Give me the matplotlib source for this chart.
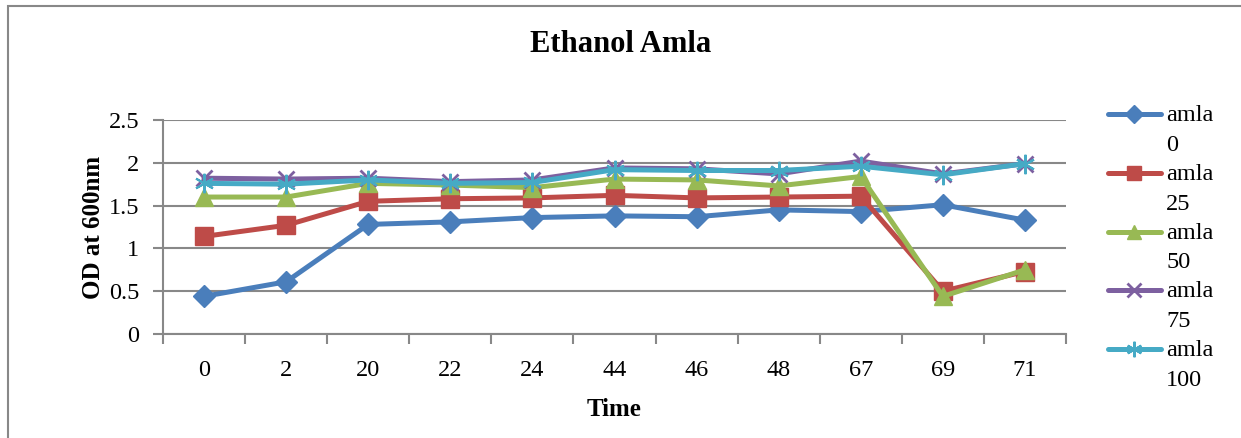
"""
Ethanol Amla growth curves: OD at 600nm over time for each amla concentration.
"""

import matplotlib.pyplot as plt
import matplotlib.patches as mpatches
from matplotlib.lines import Line2D

plt.rcParams['font.family'] = ['Liberation Serif', 'DejaVu Serif']

# Sampling times (hours), plotted as categories
times = ['0', '2', '20', '22', '24', '44', '46', '48', '67', '69', '71']

amla_0 = [0.44, 0.61, 1.28, 1.31, 1.36, 1.38, 1.37, 1.45, 1.43, 1.51, 1.33]
amla_25 = [1.14, 1.27, 1.55, 1.58, 1.59, 1.62, 1.59, 1.60, 1.61, 0.50, 0.73]
amla_50 = [1.60, 1.60, 1.76, 1.74, 1.71, 1.81, 1.80, 1.73, 1.84, 0.44, 0.75]
amla_75 = [1.82, 1.81, 1.82, 1.78, 1.80, 1.94, 1.93, 1.87, 2.02, 1.87, 1.99]
amla_100 = [1.76, 1.75, 1.80, 1.76, 1.77, 1.92, 1.91, 1.91, 1.96, 1.86, 1.99]

series_labels = ['amla\n0', 'amla\n25', 'amla\n50', 'amla\n75', 'amla\n100']

W, H = 1241, 438


def main():
    fig = plt.figure(figsize=(W / 100, H / 100), dpi=100)
    ax = fig.add_axes([163 / W, 1 - 334 / H, (1066 - 163) / W, 214 / H])

    styles = [
        (amla_0, '#4A7EBB', 'D', 11, 1),
        (amla_25, '#BE4B48', 's', 12.5, 1),
        (amla_50, '#98B954', '^', 13, 1),
        (amla_75, '#7D60A0', 'x', 12, 2),
        (amla_100, '#46AAC5', (6, 2, 0), 14, 1.5),
    ]
    x = list(range(len(times)))
    for vals, color, marker, ms, mew in styles:
        ax.plot(x, vals, color=color, lw=3.6, marker=marker, markersize=ms,
                markeredgewidth=mew, markeredgecolor=color,
                markerfacecolor=color, solid_capstyle='round')

    # Axes styling
    ax.set_xlim(-0.5, len(times) - 0.5)
    ax.set_ylim(0, 2.5)
    ax.set_yticks([0, 0.5, 1, 1.5, 2, 2.5])
    ax.set_yticklabels(['0', '0.5', '1', '1.5', '2', '2.5'])
    ax.set_xticks(x)
    ax.set_xticklabels(times)
    ax.set_xticks([i - 0.5 for i in range(len(times) + 1)], minor=True)
    ax.tick_params(axis='x', which='major', length=0, pad=19, labelsize=17.5)
    ax.tick_params(axis='x', which='minor', length=7, width=1.5,
                   color='#888888', direction='out')
    ax.tick_params(axis='y', length=7, width=1.5, color='#888888',
                   direction='out', labelsize=17.5, pad=10)
    ax.grid(axis='y', color='#888888', lw=1.5)
    ax.set_axisbelow(True)
    for side in ('top', 'right'):
        ax.spines[side].set_visible(False)
    for side in ('left', 'bottom'):
        ax.spines[side].set_color('#888888')
        ax.spines[side].set_linewidth(1.5)

    ax.set_xlabel('Time', fontsize=18, fontweight='bold', labelpad=12)
    ax.set_ylabel('OD at 600nm', fontsize=18, fontweight='bold', labelpad=3)
    fig.text(0.5, 1 - 45 / H, 'Ethanol Amla', ha='center', va='center',
             fontsize=22, fontweight='bold')

    # Legend: handle on the first text line, value on the line below
    for i, ((vals, color, marker, ms, mew), label) in enumerate(
            zip(styles, series_labels)):
        y = 1 - (114 + 58.8 * i) / H
        fig.lines.append(Line2D([1108 / W, 1161 / W], [y, y],
                                transform=fig.transFigure, color=color,
                                lw=3.6, solid_capstyle='round'))
        fig.lines.append(Line2D([1134 / W], [y], transform=fig.transFigure,
                                marker=marker, markersize=ms * 0.8,
                                markeredgewidth=mew, color=color,
                                markerfacecolor=color, markeredgecolor=color))
        fig.text(1166 / W, y + 9 / H, label, ha='left', va='top',
                 fontsize=17.5, linespacing=1.55)

    # Outer chart frame
    frame = mpatches.Rectangle((8 / W, -0.1), 1.2, 1.1 - 6 / H,
                               transform=fig.transFigure, fill=False,
                               edgecolor='#888888', lw=1.5, zorder=0)
    fig.patches.append(frame)

    fig.savefig('out.png', dpi=100, facecolor='white')
    plt.close(fig)


if __name__ == "__main__":
    main()
